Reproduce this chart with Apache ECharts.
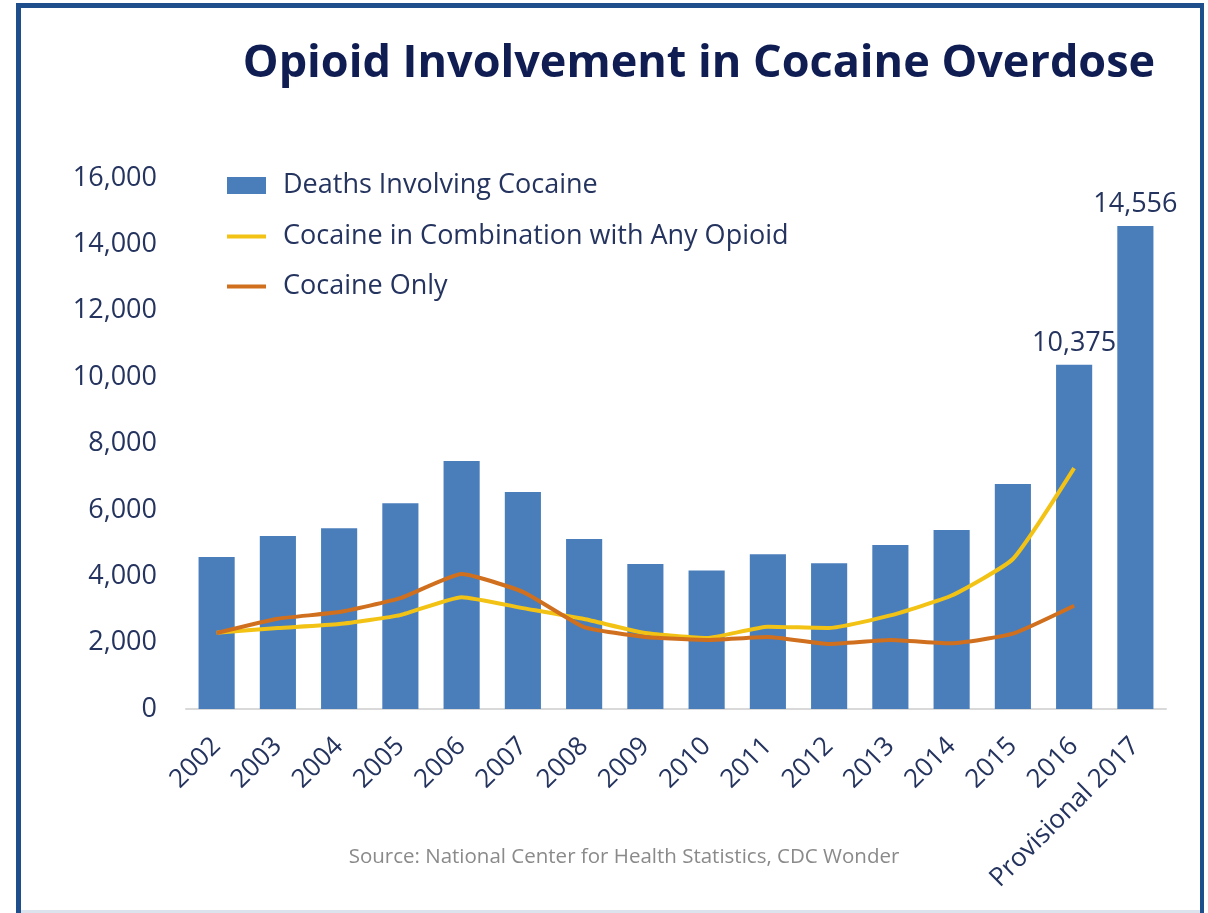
<!DOCTYPE html>
<html>
<head>
<meta charset="utf-8">
<script src="https://cdn.jsdelivr.net/npm/echarts@6/dist/echarts.min.js"></script>
<style>
  html, body { margin: 0; padding: 0; background: #ffffff; }
  #chart { width: 1208px; height: 913px; }
</style>
</head>
<body>
<div id="chart"></div>
<script>
// Years on the category axis
const years = ['2002', '2003', '2004', '2005', '2006', '2007', '2008', '2009',
  '2010', '2011', '2012', '2013', '2014', '2015', '2016', 'Provisional 2017'];

// Deaths involving cocaine (bars)
const cocaineDeaths = [4580, 5210, 5450, 6200, 7470, 6540, 5120, 4370,
  4170, 4660, 4390, 4940, 5390, 6780, 10375, 14556];

// Cocaine in combination with any opioid
const withOpioid = [2300, 2440, 2560, 2830, 3370, 3040, 2710, 2290,
  2140, 2480, 2440, 2820, 3420, 4520, 7260, null];

// Cocaine only
const cocaineOnly = [2290, 2720, 2920, 3340, 4070, 3530, 2470, 2170,
  2080, 2170, 1960, 2080, 1980, 2270, 3110, null];

// Bars that carry a value label
const labelledYears = ['2016', 'Provisional 2017'];

// Y axis range
const yMin = 0, yMax = 16000, yStep = 2000;

const FONT = '"Open Sans", "Noto Sans", sans-serif';
const NAVY = '#25345f';
const BAR = '#4a7ebb';
const YELLOW = '#f2c314';
const ORANGE = '#d0701e';

const chart = echarts.init(document.getElementById('chart'), null, { renderer: 'canvas' });

const barData = cocaineDeaths.map((v, i) => ({
  value: v,
  label: { show: labelledYears.includes(years[i]) }
}));

// one legend per row so that the line keys can be drawn as thin strokes
function legendRow(name, top, iconHeight) {
  return {
    orient: 'vertical',
    left: 227,
    top: top,
    padding: 0,
    icon: 'rect',
    itemWidth: 39,
    itemHeight: iconHeight,
    selectedMode: false,
    data: [name],
    textStyle: { fontFamily: FONT, fontSize: 27, color: NAVY, padding: [0, 0, 0, 12] }
  };
}

chart.setOption({
  backgroundColor: '#ffffff',
  animation: false,
  title: {
    text: 'Opioid Involvement in Cocaine Overdose',
    left: 694,
    textAlign: 'center',
    top: 37,
    textStyle: { fontFamily: FONT, fontWeight: 700, fontSize: 45, color: '#0f1d52' }
  },
  legend: [
    legendRow('Deaths Involving Cocaine', 172, 17),
    legendRow('Cocaine in Combination with Any Opioid', 223, 4),
    legendRow('Cocaine Only', 273, 4)
  ],
  grid: { left: 186, right: 42, top: 178, bottom: 204, containLabel: false },
  xAxis: {
    type: 'category',
    data: years,
    axisLine: { lineStyle: { color: '#d9d9d9', width: 2 } },
    axisTick: { show: false },
    axisLabel: {
      rotate: 45,
      interval: 0,
      margin: 33,
      fontFamily: FONT,
      fontSize: 26,
      color: NAVY
    }
  },
  yAxis: {
    type: 'value',
    min: yMin,
    max: yMax,
    interval: yStep,
    axisLine: { show: false },
    axisTick: { show: false },
    splitLine: { show: false },
    axisLabel: {
      margin: 29,
      fontFamily: FONT,
      fontSize: 27,
      color: NAVY,
      formatter: v => v.toLocaleString('en-US')
    }
  },
  series: [
    {
      name: 'Deaths Involving Cocaine',
      type: 'bar',
      data: barData,
      barWidth: '59%',
      itemStyle: { color: BAR },
      label: {
        position: 'top',
        distance: 8,
        fontFamily: FONT,
        fontSize: 27,
        color: NAVY,
        formatter: p => p.value.toLocaleString('en-US')
      }
    },
    {
      name: 'Cocaine in Combination with Any Opioid',
      type: 'line',
      data: withOpioid,
      symbol: 'none',
      smooth: 0.15,
      lineStyle: { color: YELLOW, width: 4, join: 'round' },
      itemStyle: { color: YELLOW }
    },
    {
      name: 'Cocaine Only',
      type: 'line',
      data: cocaineOnly,
      symbol: 'none',
      smooth: 0.15,
      lineStyle: { color: ORANGE, width: 4, join: 'round' },
      itemStyle: { color: ORANGE }
    }
  ],
  graphic: [
    // frame around the slide
    { type: 'rect', shape: { x: 16, y: 3, width: 5, height: 910 }, style: { fill: '#1f4e8c' }, silent: true },
    { type: 'rect', shape: { x: 16, y: 3, width: 1188, height: 5 }, style: { fill: '#1f4e8c' }, silent: true },
    { type: 'rect', shape: { x: 1200, y: 3, width: 4, height: 910 }, style: { fill: '#1f4e8c' }, silent: true },
    { type: 'rect', shape: { x: 21, y: 910, width: 1179, height: 3 }, style: { fill: '#dde3ec' }, silent: true },
    {
      type: 'text',
      x: 624,
      y: 857,
      style: {
        text: 'Source: National Center for Health Statistics, CDC Wonder',
        fontFamily: FONT,
        fontSize: 20.5,
        fill: '#8a8a8a',
        align: 'center',
        verticalAlign: 'middle'
      }
    }
  ]
});
</script>
</body>
</html>
